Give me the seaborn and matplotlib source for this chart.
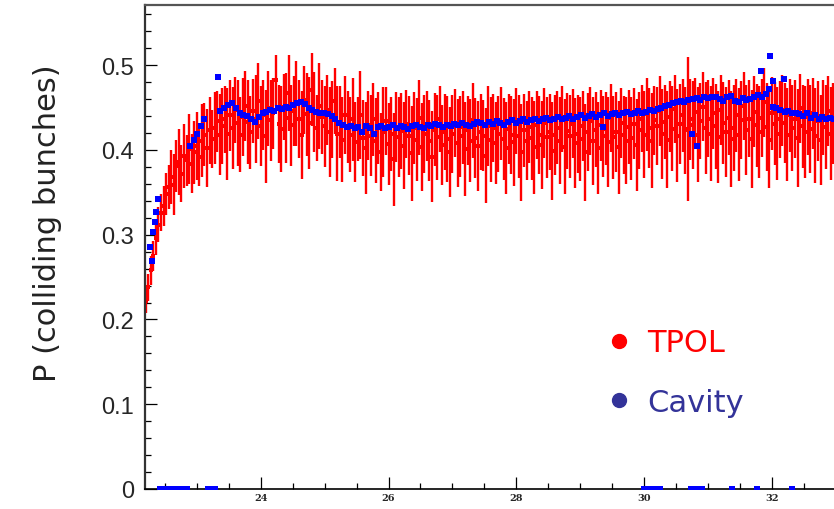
"""TPOL vs cavity polarimeter: P of colliding bunches over one fill."""

import matplotlib
matplotlib.use("Agg")
import matplotlib.pyplot as plt
import numpy as np
import seaborn as sns
from matplotlib.lines import Line2D
from matplotlib.ticker import MultipleLocator

# TPOL: one point every 0.04 h from 22.20 h
tpol_start = 22.20
tpol_step = 0.04
tpol_p = [
    0.222, 0.238, 0.258, 0.275, 0.296, 0.312, 0.326, 0.334, 0.348, 0.356,
    0.368, 0.359, 0.381, 0.386, 0.372, 0.393, 0.388, 0.401, 0.384, 0.397,
    0.405, 0.392, 0.411, 0.418, 0.402, 0.423, 0.413, 0.426, 0.434, 0.418,
    0.428, 0.436, 0.419, 0.441, 0.426, 0.447, 0.432, 0.418, 0.439, 0.452,
    0.433, 0.421, 0.446, 0.437, 0.458, 0.428, 0.441, 0.416, 0.449, 0.435,
    0.443, 0.482, 0.431, 0.425, 0.451, 0.438, 0.467, 0.429, 0.446, 0.455,
    0.437, 0.418, 0.459, 0.442, 0.432, 0.471, 0.445, 0.426, 0.452, 0.439,
    0.428, 0.447, 0.421, 0.436, 0.458, 0.419, 0.433, 0.412, 0.441, 0.427,
    0.418, 0.436, 0.409, 0.425, 0.441, 0.414, 0.402, 0.429, 0.417, 0.436,
    0.411, 0.426, 0.398, 0.421, 0.434, 0.407, 0.419, 0.389, 0.427, 0.415,
    0.422, 0.405, 0.431, 0.417, 0.396, 0.426, 0.412, 0.438, 0.403, 0.419,
    0.428, 0.411, 0.392, 0.424, 0.415, 0.437, 0.406, 0.421, 0.413, 0.398,
    0.419, 0.432, 0.408, 0.416, 0.427, 0.401, 0.423, 0.411, 0.435, 0.414,
    0.405, 0.421, 0.417, 0.393, 0.428, 0.412, 0.426, 0.408, 0.419, 0.431,
    0.413, 0.402, 0.425, 0.418, 0.409, 0.434, 0.416, 0.397, 0.423, 0.411,
    0.427, 0.414, 0.403, 0.429, 0.418, 0.406, 0.432, 0.415, 0.421, 0.399,
    0.418, 0.426, 0.411, 0.437, 0.404, 0.422, 0.416, 0.431, 0.408, 0.419,
    0.413, 0.428, 0.397, 0.421, 0.434, 0.411, 0.424, 0.402, 0.429, 0.416,
    0.425, 0.409, 0.438, 0.415, 0.421, 0.403, 0.432, 0.418, 0.411, 0.427,
    0.414, 0.431, 0.406, 0.423, 0.437, 0.418, 0.442, 0.426, 0.411, 0.435,
    0.428, 0.446, 0.419, 0.433, 0.412, 0.439, 0.425, 0.448, 0.417, 0.431,
    0.441, 0.423, 0.425, 0.436, 0.429, 0.445, 0.418, 0.434, 0.451, 0.426,
    0.437, 0.419, 0.443, 0.428, 0.415, 0.447, 0.432, 0.421, 0.438, 0.413,
    0.426, 0.441, 0.418, 0.435, 0.452, 0.424, 0.437, 0.413, 0.445, 0.429,
    0.421, 0.438, 0.456, 0.427, 0.412, 0.443, 0.431, 0.419, 0.436, 0.447,
    0.432, 0.418, 0.441, 0.426, 0.437, 0.414, 0.449, 0.428, 0.421, 0.439,
    0.425, 0.443, 0.417, 0.434, 0.412, 0.438, 0.427, 0.446, 0.419, 0.431,
]
tpol_err = [
    0.014, 0.016, 0.017, 0.018, 0.020, 0.021, 0.022, 0.024, 0.025, 0.026,
    0.032, 0.036, 0.031, 0.039, 0.034, 0.038, 0.030, 0.041, 0.035, 0.037,
    0.040, 0.035, 0.043, 0.037, 0.046, 0.039, 0.034, 0.042, 0.036, 0.048,
    0.045, 0.040, 0.054, 0.042, 0.048, 0.039, 0.051, 0.044, 0.046, 0.041,
    0.049, 0.043, 0.038, 0.052, 0.045, 0.047, 0.041, 0.055, 0.044, 0.048,
    0.042, 0.030, 0.046, 0.051, 0.039, 0.053, 0.045, 0.048, 0.041, 0.050,
    0.046, 0.052, 0.040, 0.049, 0.054, 0.043, 0.047, 0.039, 0.051, 0.044,
    0.048, 0.041, 0.053, 0.045, 0.039, 0.056, 0.043, 0.050, 0.046, 0.042,
    0.044, 0.049, 0.047, 0.038, 0.052, 0.045, 0.054, 0.041, 0.048, 0.043,
    0.050, 0.042, 0.046, 0.053, 0.040, 0.048, 0.044, 0.055, 0.041, 0.047,
    0.045, 0.051, 0.040, 0.047, 0.056, 0.042, 0.049, 0.044, 0.052, 0.046,
    0.041, 0.048, 0.054, 0.043, 0.050, 0.039, 0.047, 0.045, 0.051, 0.053,
    0.046, 0.040, 0.052, 0.048, 0.043, 0.055, 0.041, 0.049, 0.044, 0.047,
    0.053, 0.045, 0.042, 0.056, 0.047, 0.050, 0.040, 0.048, 0.045, 0.043,
    0.048, 0.054, 0.041, 0.046, 0.051, 0.039, 0.049, 0.057, 0.043, 0.047,
    0.042, 0.049, 0.055, 0.040, 0.046, 0.052, 0.041, 0.048, 0.045, 0.058,
    0.047, 0.043, 0.051, 0.039, 0.056, 0.045, 0.049, 0.041, 0.053, 0.046,
    0.050, 0.041, 0.057, 0.046, 0.040, 0.052, 0.044, 0.054, 0.042, 0.048,
    0.043, 0.053, 0.040, 0.049, 0.047, 0.055, 0.041, 0.046, 0.051, 0.044,
    0.049, 0.042, 0.054, 0.045, 0.040, 0.051, 0.043, 0.047, 0.056, 0.041,
    0.046, 0.041, 0.053, 0.044, 0.057, 0.042, 0.050, 0.040, 0.055, 0.047,
    0.043, 0.051, 0.085, 0.048, 0.052, 0.040, 0.056, 0.045, 0.041, 0.054,
    0.045, 0.056, 0.042, 0.050, 0.054, 0.041, 0.048, 0.053, 0.044, 0.057,
    0.051, 0.043, 0.055, 0.046, 0.040, 0.053, 0.045, 0.058, 0.042, 0.049,
    0.054, 0.046, 0.041, 0.052, 0.057, 0.043, 0.049, 0.055, 0.045, 0.042,
    0.047, 0.055, 0.043, 0.051, 0.046, 0.058, 0.041, 0.049, 0.054, 0.045,
    0.052, 0.042, 0.056, 0.047, 0.053, 0.044, 0.050, 0.041, 0.055, 0.048,
]

# cavity polarimeter (0 = no measurement)
cavity_time = [
    22.27, 22.30, 22.31, 22.34, 22.36, 22.39,
    22.42, 22.48, 22.54, 22.60, 22.66, 22.72, 22.78, 22.84,
    22.89, 22.95, 23.01, 23.07, 23.12, 23.17, 23.23, 23.29, 23.33,
    23.37, 23.43, 23.49, 23.55, 23.61, 23.67, 23.73, 23.79, 23.85, 23.91, 23.97,
    24.03, 24.09, 24.15, 24.21, 24.27, 24.33, 24.39, 24.45, 24.51, 24.57, 24.63, 24.69, 24.75, 24.81, 24.87, 24.93, 24.99,
    25.05, 25.11, 25.17, 25.23, 25.29, 25.35, 25.41, 25.47, 25.53, 25.59, 25.65, 25.71, 25.77, 25.83, 25.89, 25.95,
    26.01, 26.07, 26.13, 26.19, 26.25, 26.31, 26.37, 26.43, 26.49, 26.55, 26.61, 26.67, 26.73, 26.79, 26.85, 26.91, 26.97,
    27.03, 27.09, 27.15, 27.21, 27.27, 27.33, 27.39, 27.45, 27.51, 27.57, 27.63, 27.69, 27.75, 27.81, 27.87, 27.93, 27.99,
    28.05, 28.11, 28.17, 28.23, 28.29, 28.35, 28.41, 28.47, 28.53, 28.59, 28.65, 28.71, 28.77, 28.83, 28.89, 28.95,
    29.01, 29.07, 29.13, 29.19, 29.25, 29.31, 29.36, 29.37, 29.43, 29.49, 29.55, 29.61, 29.67, 29.73, 29.79, 29.85, 29.91, 29.97,
    30.00, 30.06, 30.12, 30.18, 30.24, 30.03, 30.09, 30.15, 30.21, 30.27, 30.33, 30.39, 30.45, 30.51, 30.57, 30.63, 30.69,
    30.73, 30.79, 30.85, 30.91, 30.75, 30.83, 30.76, 30.82, 30.88, 30.94,
    31.00, 31.06, 31.12, 31.18, 31.24, 31.30, 31.36, 31.38, 31.42, 31.48, 31.54, 31.60, 31.66, 31.72, 31.77, 31.78, 31.83, 31.84, 31.90, 31.96, 31.97,
    32.01, 32.02, 32.07, 32.13, 32.19, 32.20, 32.25, 32.31, 32.32, 32.37, 32.43, 32.49, 32.55, 32.61, 32.67, 32.73, 32.79, 32.85, 32.91, 32.97,
]
cavity_p = [
    0.285, 0.269, 0.303, 0.315, 0.327, 0.342,
    0, 0, 0, 0, 0, 0, 0, 0,
    0.405, 0.412, 0.419, 0.428, 0.436, 0, 0, 0, 0.486,
    0.446, 0.449, 0.453, 0.455, 0.450, 0.444, 0.441, 0.440, 0.437, 0.433, 0.439,
    0.443, 0.445, 0.447, 0.446, 0.449, 0.448, 0.451, 0.450, 0.453, 0.455, 0.457, 0.454, 0.449, 0.447, 0.445, 0.443, 0.444,
    0.442, 0.440, 0.436, 0.432, 0.430, 0.427, 0.428, 0.426, 0.427, 0.421, 0.428, 0.426, 0.419, 0.427, 0.428, 0.426,
    0.427, 0.429, 0.426, 0.428, 0.427, 0.425, 0.428, 0.430, 0.427, 0.426, 0.429, 0.428, 0.431, 0.429, 0.427, 0.430, 0.428,
    0.431, 0.429, 0.432, 0.430, 0.428, 0.431, 0.433, 0.432, 0.430, 0.433, 0.431, 0.434, 0.432, 0.430, 0.433, 0.435, 0.432,
    0.434, 0.436, 0.433, 0.435, 0.437, 0.434, 0.436, 0.438, 0.435, 0.437, 0.439, 0.436, 0.438, 0.440, 0.437, 0.439,
    0.441, 0.438, 0.440, 0.442, 0.439, 0.441, 0.427, 0.443, 0.440, 0.442, 0.444, 0.441, 0.443, 0.445, 0.442, 0.444, 0.446, 0.443,
    0, 0, 0, 0, 0, 0.445, 0.447, 0.446, 0.448, 0.450, 0.452, 0.453, 0.455, 0.456, 0.458, 0.457, 0.459,
    0, 0, 0, 0, 0.419, 0.405, 0.460, 0.461, 0.459, 0.462,
    0.461, 0.463, 0.462, 0.460, 0.458, 0.462, 0.464, 0, 0.458, 0.456, 0.461, 0.459, 0.460, 0.462, 0, 0.465, 0.493, 0.463, 0.466, 0.472, 0.511,
    0.451, 0.481, 0.449, 0.447, 0.484, 0.445, 0.446, 0.443, 0, 0.444, 0.442, 0.440, 0.443, 0.438, 0.441, 0.437, 0.439, 0.436, 0.438, 0.437,
]

x_major_ticks = [24, 26, 28, 30, 32]
y_major_ticks = [0, 0.1, 0.2, 0.3, 0.4, 0.5]
y_tick_labels = ["0", "0.1", "0.2", "0.3", "0.4", "0.5"]
legend_labels = ["TPOL", "Cavity"]

tpol_time = np.round(tpol_start + tpol_step * np.arange(len(tpol_p)), 2)

sns.set_theme(style="ticks")
plt.rcParams["font.family"] = ["DejaVu Sans"]

fig = plt.figure(figsize=(8.34, 5.10), dpi=100)
ax = fig.add_axes([145 / 834, 20 / 510, 1 - 145 / 834, 484 / 510])

ax.errorbar(tpol_time, tpol_p, yerr=tpol_err, fmt="none", ecolor="#ff0000",
            elinewidth=1.7, capsize=0, zorder=2)
sns.scatterplot(x=tpol_time, y=tpol_p, ax=ax, marker="s", s=9, color="#ff0000",
                linewidth=0, zorder=2.2)
sns.scatterplot(x=cavity_time, y=cavity_p, ax=ax, marker="s", s=20, color="#0000ff",
                linewidth=0, zorder=3)

ax.set_xlim(22.19, 32.97)
ax.set_ylim(0, 0.571)
ax.set_xticks(x_major_ticks)
ax.set_xticklabels([str(t) for t in x_major_ticks], fontsize=7, fontweight="bold",
                   family="DejaVu Serif")
ax.xaxis.set_minor_locator(MultipleLocator(0.5))
ax.set_yticks(y_major_ticks)
ax.set_yticklabels(y_tick_labels, fontsize=17, family="Liberation Sans")
ax.yaxis.set_minor_locator(MultipleLocator(0.02))
ax.tick_params(which="both", direction="in", width=0.9, color="black", top=False, right=False)
ax.tick_params(which="major", length=8.5)
ax.tick_params(which="minor", length=4.3)
ax.tick_params(axis="y", pad=8)
ax.tick_params(axis="x", pad=3)

ax.spines["right"].set_visible(False)
ax.spines["left"].set_color("#333333")
ax.spines["left"].set_linewidth(1.6)
ax.spines["bottom"].set_color("black")
ax.spines["bottom"].set_linewidth(1.2)
ax.spines["top"].set_color("#555555")
ax.spines["top"].set_linewidth(1.6)

ax.set_xlabel("")
ax.set_ylabel("P (colliding bunches)", fontsize=22, color="#222222")
ax.yaxis.set_label_coords(-0.12, 0.552)

handles = [
    Line2D([], [], marker="o", linestyle="", color="#ff0000", markersize=10),
    Line2D([], [], marker="o", linestyle="", color="#333399", markersize=10),
]
leg = ax.legend(handles, legend_labels, loc="upper left", frameon=False,
                bbox_to_anchor=(588 / 834, 1 - 314 / 510), bbox_transform=fig.transFigure,
                fontsize=22, borderpad=0, handlelength=1.0, handletextpad=0.45,
                labelspacing=1.0)
for txt, col in zip(leg.get_texts(), ["#ff0000", "#333399"]):
    txt.set_color(col)

fig.savefig("out.png", dpi=100)
